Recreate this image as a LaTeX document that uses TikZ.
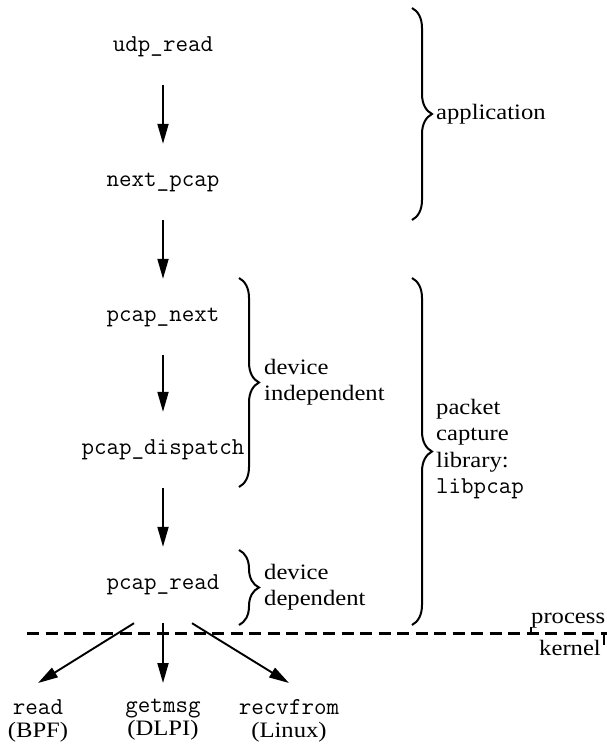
\documentclass[tikz,border=0pt]{standalone}
\usepackage{fontspec}
\setmainfont{Liberation Serif}[FakeStretch=1.12]
\usetikzlibrary{arrows.meta,decorations.pathreplacing}
\newcommand\fnt[1]{{\ttfamily\fontsize{24.3}{23}\selectfont #1}}
\begin{document}
\begin{tikzpicture}[x=1pt,y=-1pt,
  fn/.style={font=\ttfamily\fontsize{24.3}{25}\selectfont, inner sep=0pt,
    minimum height=76pt, text height=14pt, text depth=5pt},
  arr/.style={line width=1.9pt, -{Triangle[length=20pt,width=11pt]}},
  brc/.style={decorate, decoration={brace, amplitude=20pt}, line width=2pt},
  lab/.style={font=\fontsize{22}{26.5}\selectfont, align=left, inner sep=0pt, anchor=west},
  bot/.style={font=\fontsize{22}{23}\selectfont, align=center, inner xsep=0pt,
    inner ysep=16pt, anchor=north},
  sep/.style={line width=3pt, dash pattern=on 12pt off 6.5pt},
  tick/.style={line width=1.3pt}]
\useasboundingbox (0,0) rectangle (607,744);

% function nodes
\node[fn] (udp) at (163,47) {udp\_read};
\node[fn] (nxt) at (163,182) {next\_pcap};
\node[fn] (pnx) at (163,317) {pcap\_next};
\node[fn] (pdi) at (163,450) {pcap\_dispatch};
\node[fn] (prd) at (163,585) {pcap\_read};

\node[bot] (rd) at (38,683) {\fnt{read}\\(BPF)};
\node[bot] (gm) at (163,683) {\fnt{getmsg}\\(DLPI)};
\node[bot] (rf) at (289,683) {\fnt{recvfrom}\\(Linux)};

% arrows
\draw[arr] (udp.south) -- (nxt.north);
\draw[arr] (nxt.south) -- (pnx.north);
\draw[arr] (pnx.south) -- (pdi.north);
\draw[arr] (pdi.south) -- (prd.north);
\draw[arr] ([xshift=-29pt]prd.south) -- (rd.north);
\draw[arr] (prd.south) -- (gm.north);
\draw[arr] ([xshift=29pt]prd.south) -- (rf.north);

% braces and labels
\draw[brc] (412,8) -- (412,220);
\node[lab] (app) at (436,114) {application};
\draw[brc] (239,278) -- (239,487);
\node[lab] (dind) at (264,382) {device\\independent};
\draw[brc] (412,278) -- (412,625);
\node[lab] (lib) at (436,449) {packet\\capture\\library:\\\fnt{libpcap}};
\draw[brc] (239,550) -- (239,625);
\node[lab] (ddep) at (264,587) {device\\dependent};

% process / kernel boundary
\draw[sep] (27,633) -- (607,633);
\node[font=\fontsize{22}{26}\selectfont, inner sep=0pt, anchor=base west] (proc) at (531,623) {process};
\node[font=\fontsize{22}{26}\selectfont, inner sep=0pt, anchor=base east] (kern) at (601,655) {kernel};
\draw[tick] (531,627) -- (531,633);
\draw[tick] (604,633) -- (604,645);
\end{tikzpicture}
\end{document}
